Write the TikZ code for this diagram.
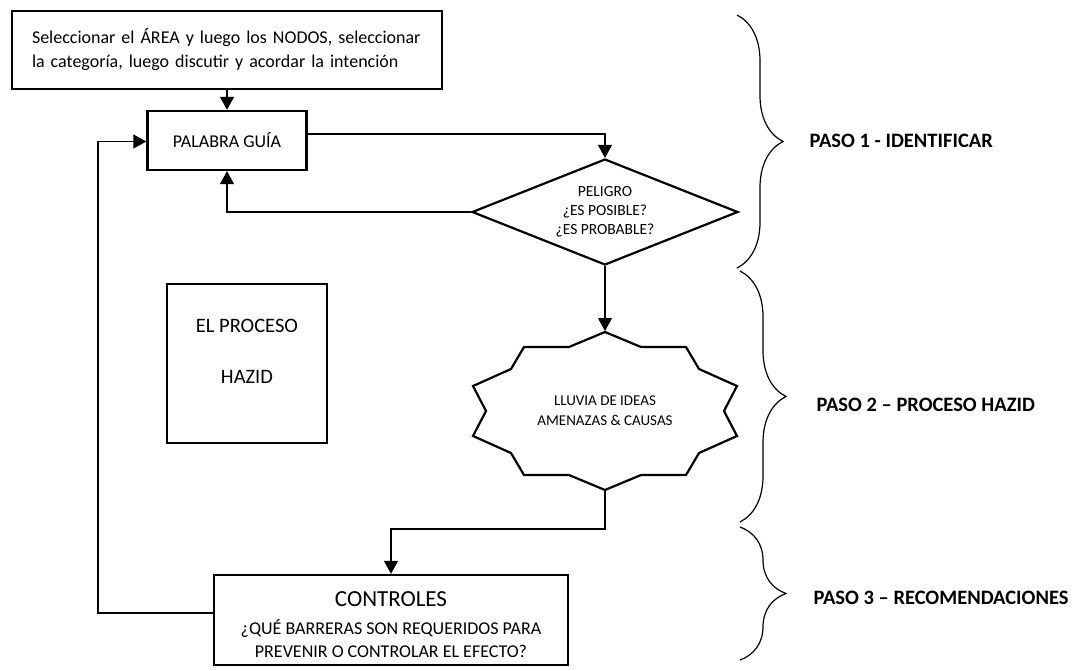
\documentclass[tikz,border=0pt]{standalone}
\usepackage{fontspec}
\setmainfont{Carlito}
\usetikzlibrary{arrows.meta,decorations.pathreplacing,calc,shapes.geometric}
\begin{document}
\begin{tikzpicture}[x=1pt,y=-1pt,
  box/.style={draw, line width=2.4pt, inner sep=0pt, align=center},
  conn/.style={line width=1.4pt, -{Triangle[length=13pt,width=14pt]}},
  brc/.style={decorate, decoration={brace, amplitude=46pt}, line width=1.2pt},
  lbl/.style={anchor=west, font=\fontsize{20.5}{24}\selectfont\bfseries},
  txt/.style={align=center, inner sep=0pt}
]
\useasboundingbox (0,0) rectangle (1080,670);
% top box
\node[box, minimum width=430pt, minimum height=78pt, text width=390pt, inner xsep=20pt, align=left,
      font=\fontsize{18}{24}\selectfont] (sel) at (227,50)
  {Seleccionar el ÁREA y luego los NODOS, seleccionar\\la categoría, luego discutir y acordar la intención};
% palabra guia
\node[box, minimum width=159pt, minimum height=59pt, font=\fontsize{18}{22}\selectfont] (pal) at (227,140.5) {PALABRA GUÍA};
% diamond
\node[draw, diamond, line width=2.2pt, aspect=2.5, minimum width=266pt, minimum height=106pt, inner sep=0pt,
      align=center, font=\fontsize{15.5}{19}\selectfont] (dia) at (605,212)
  {PELIGRO\\¿ES POSIBLE?\\¿ES PROBABLE?};
% star (ideas)
\node[txt, font=\fontsize{15}{20}\selectfont] (idea) at (605,411) {LLUVIA DE IDEAS\\AMENAZAS \& CAUSAS};
\draw[line width=2.2pt, line join=miter]
  ($(idea)+(0,-79)$) -- ($(idea)+(36,-64)$) -- ($(idea)+(81,-64)$) -- ($(idea)+(94,-42)$) --
  ($(idea)+(132,-25)$) -- ($(idea)+(119,0)$) -- ($(idea)+(132,25)$) -- ($(idea)+(94,42)$) --
  ($(idea)+(81,64)$) -- ($(idea)+(36,64)$) -- ($(idea)+(0,79)$) -- ($(idea)+(-36,64)$) --
  ($(idea)+(-81,64)$) -- ($(idea)+(-94,42)$) -- ($(idea)+(-132,25)$) -- ($(idea)+(-119,0)$) --
  ($(idea)+(-132,-25)$) -- ($(idea)+(-94,-42)$) -- ($(idea)+(-81,-64)$) -- ($(idea)+(-36,-64)$) -- cycle;
\coordinate (ideatop) at ($(idea)+(0,-80)$);
\coordinate (ideabot) at ($(idea)+(0,79)$);
% el proceso hazid
\node[box, minimum width=160pt, minimum height=159pt] (proc) at (247,363.5) {};
\node[txt, font=\fontsize{20.5}{25}\selectfont] (proctxt) at (247,351) {EL PROCESO\\[26pt]HAZID};
% controles
\node[box, minimum width=354pt, minimum height=90pt] (ctl) at (391,620) {};
\node[txt, font=\fontsize{18}{23}\selectfont] (ctltxt) at (391,625)
  {{\fontsize{23}{27}\selectfont CONTROLES}\\[5pt]¿QUÉ BARRERAS SON REQUERIDOS PARA\\PREVENIR O CONTROLAR EL EFECTO?};
% connectors
\coordinate (fb) at (98,613);
\draw[conn] (sel.south -| pal.north) -- (pal.north);
\draw[conn] ([yshift=6.5pt]pal.east) -| (dia.north);
\draw[conn] (dia.west) -| (pal.south);
\draw[conn] (dia.south) -- (ideatop);
\draw[conn] (ideabot) |- ($(ctl.north)+(0,-45)$) -- (ctl.north);
\draw[conn] (ctl.west |- fb) -- (fb) |- ([yshift=-1pt]pal.west);
% braces
\draw[brc] (737,15) -- (737,268);
\draw[brc] (740,271) -- (740,522);
\draw[brc] (740,527) -- (740,660);
% labels
\node[lbl] (p1) at (806,141) {PASO 1 - IDENTIFICAR};
\node[lbl] (p2) at (813,405) {PASO 2 – PROCESO HAZID};
\node[lbl] (p3) at (810,598) {PASO 3 – RECOMENDACIONES};
\end{tikzpicture}
\end{document}
